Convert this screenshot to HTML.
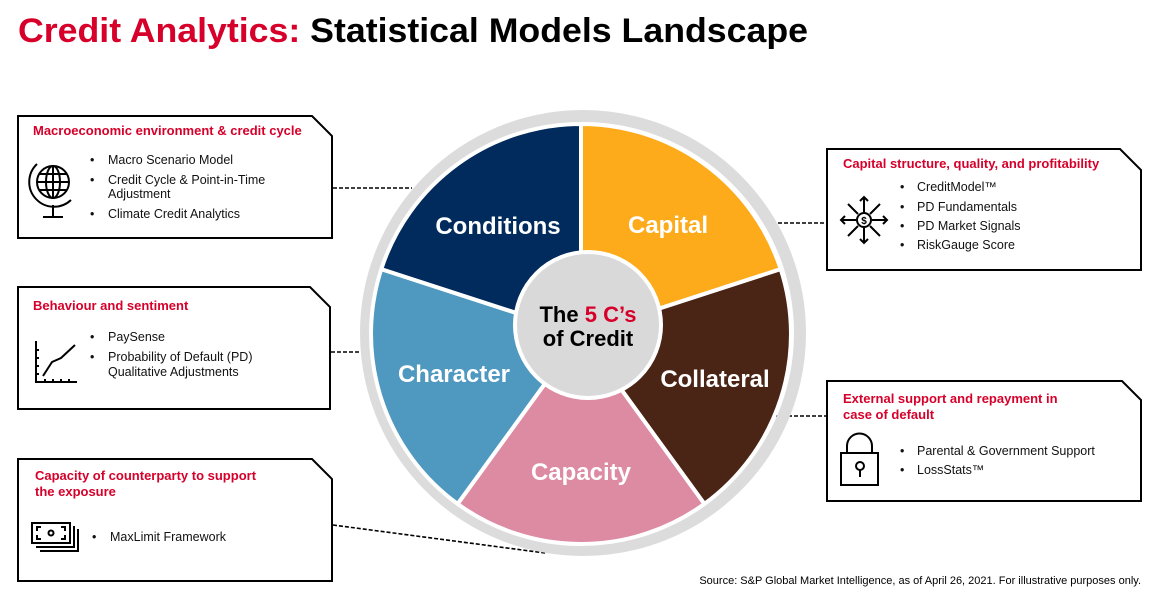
<!DOCTYPE html>
<html><head><meta charset="utf-8"><style>
html,body{margin:0;padding:0;background:#fff;}
svg{display:block;font-family:"Liberation Sans",Arial,sans-serif;}
.t{fill:#d6002a;font-weight:bold;font-size:13px;}
.b{fill:#111;font-size:12.5px;}
.w{fill:#fff;font-weight:bold;font-size:24px;text-anchor:middle;}
.box{fill:#fff;stroke:#000;stroke-width:2;}
.d{stroke:#000;stroke-width:1.6;stroke-dasharray:4,2;fill:none;}
</style></head><body>
<svg width="1169" height="603" viewBox="0 0 1169 603">
<text x="18" y="42" font-size="34" font-weight="bold" textLength="790" lengthAdjust="spacingAndGlyphs"><tspan fill="#d6002a">Credit Analytics:</tspan><tspan fill="#000"> Statistical Models Landscape</tspan></text>

<line class="d" x1="333" y1="188" x2="412" y2="188"/>
<line class="d" x1="331" y1="352" x2="362" y2="352"/>
<line class="d" x1="333" y1="525" x2="545" y2="553"/>
<line class="d" x1="778" y1="223" x2="826" y2="223"/>
<line class="d" x1="770" y1="416" x2="826" y2="416"/>

<circle cx="583" cy="333" r="217" fill="none" stroke="#dcdcdc" stroke-width="12"/>
<g stroke="#fff" stroke-width="4" stroke-linejoin="round">
<path d="M581,334 L581,124 A210,210 0 0 1 780.7,269.1 Z" fill="#fdab1b"/>
<path d="M581,334 L780.7,269.1 A210,210 0 0 1 704.4,503.9 Z" fill="#4a2414"/>
<path d="M581,334 L704.4,503.9 A210,210 0 0 1 457.6,503.9 Z" fill="#dd8aa3"/>
<path d="M581,334 L457.6,503.9 A210,210 0 0 1 381.3,269.1 Z" fill="#4f98c0"/>
<path d="M581,334 L381.3,269.1 A210,210 0 0 1 581,124 Z" fill="#002b5c"/>
</g>
<circle cx="588" cy="325" r="73" fill="#d9d9d9" stroke="#fff" stroke-width="4"/>
<text x="588" y="322" text-anchor="middle" font-size="22" font-weight="bold" fill="#000">The <tspan fill="#d6002a">5 C’s</tspan></text>
<text x="588" y="346" text-anchor="middle" font-size="22" font-weight="bold" fill="#000">of Credit</text>
<text class="w" x="498" y="234">Conditions</text>
<text class="w" x="668" y="233">Capital</text>
<text class="w" x="454" y="382">Character</text>
<text class="w" x="715" y="387">Collateral</text>
<text class="w" x="581" y="480">Capacity</text>

<path class="box" d="M18,116 H312 L332,136 V238 H18 Z"/>
<text class="t" x="33" y="135">Macroeconomic environment &amp; credit cycle</text>
<g class="b"><text x="90" y="164">•</text><text x="108" y="164">Macro Scenario Model</text>
<text x="90" y="184">•</text><text x="108" y="184">Credit Cycle &amp; Point-in-Time</text><text x="108" y="198">Adjustment</text>
<text x="90" y="218">•</text><text x="108" y="218">Climate Credit Analytics</text></g>
<g fill="none" stroke="#000" stroke-width="2">
<circle cx="53" cy="182" r="16"/><ellipse cx="53" cy="182" rx="7" ry="16"/><line x1="37" y1="182" x2="69" y2="182"/><line x1="53" y1="166" x2="53" y2="198"/>
<line x1="39" y1="174" x2="67" y2="174"/><line x1="39" y1="190" x2="67" y2="190"/>
<path d="M37,164 A23,23 0 0 0 71,200"/><line x1="53" y1="205" x2="53" y2="217"/><line x1="43" y1="217" x2="63" y2="217"/></g>

<path class="box" d="M18,287 H310 L330,307 V409 H18 Z"/>
<text class="t" x="33" y="310">Behaviour and sentiment</text>
<g class="b"><text x="90" y="341">•</text><text x="108" y="341">PaySense</text>
<text x="90" y="361">•</text><text x="108" y="361">Probability of Default (PD)</text><text x="108" y="376">Qualitative Adjustments</text></g>
<g fill="none" stroke="#000" stroke-width="2"><path d="M36,341 V382 H77"/><path d="M43,376 L52,362 L61,358 L75,345"/>
<path d="M36,350 h3 M36,358 h3 M36,366 h3 M36,374 h3 M45,382 v-3 M53,382 v-3 M61,382 v-3 M69,382 v-3"/></g>

<path class="box" d="M18,459 H312 L332,479 V581 H18 Z"/>
<text class="t" x="35" y="480">Capacity of counterparty to support</text>
<text class="t" x="35" y="496">the exposure</text>
<g class="b"><text x="92" y="541">•</text><text x="110" y="541">MaxLimit Framework</text></g>
<g fill="none" stroke="#000" stroke-width="2"><rect x="32" y="523" width="38" height="20"/><path d="M74,526 V547 H36 M78,529 V551 H40"/>
<circle cx="51" cy="533" r="2.5"/><path d="M37,531 v-4 h4 M37,535 v4 h4 M65,531 v-4 h-4 M65,535 v4 h-4"/></g>

<path class="box" d="M827,149 H1120 L1141,170 V270 H827 Z"/>
<text class="t" x="843" y="168">Capital structure, quality, and profitability</text>
<g class="b"><text x="900" y="191">•</text><text x="917" y="191">CreditModel™</text>
<text x="900" y="211">•</text><text x="917" y="211">PD Fundamentals</text>
<text x="900" y="230">•</text><text x="917" y="230">PD Market Signals</text>
<text x="900" y="249">•</text><text x="917" y="249">RiskGauge Score</text></g>
<g fill="none" stroke="#000" stroke-width="2"><circle cx="864" cy="220" r="7"/>
<path d="M864,212 V197 M864,228 V243 M856,220 H841 M872,220 H887 M858,214 L848,204 M870,214 L880,204 M858,226 L848,236 M870,226 L880,236"/>
<path d="M860,201 L864,197 L868,201 M860,239 L864,243 L868,239 M845,216 L841,220 L845,224 M883,216 L887,220 L883,224"/></g>
<text x="864" y="224" font-size="10" font-weight="bold" text-anchor="middle">$</text>

<path class="box" d="M827,381 H1122 L1141,400 V501 H827 Z"/>
<text class="t" x="843" y="403">External support and repayment in</text>
<text class="t" x="843" y="419">case of default</text>
<g class="b"><text x="900" y="455">•</text><text x="917" y="455">Parental &amp; Government Support</text>
<text x="900" y="474">•</text><text x="917" y="474">LossStats™</text></g>
<g fill="none" stroke="#000" stroke-width="2"><rect x="841" y="453" width="37" height="32"/><path d="M847,453 V446 A12.5,12.5 0 0 1 872,446 V453"/>
<circle cx="860" cy="466" r="4"/><line x1="860" y1="470" x2="860" y2="477"/></g>

<text x="1141" y="584" text-anchor="end" font-size="11" fill="#000">Source: S&amp;P Global Market Intelligence, as of April 26, 2021. For illustrative purposes only.</text>
</svg>
</body></html>
